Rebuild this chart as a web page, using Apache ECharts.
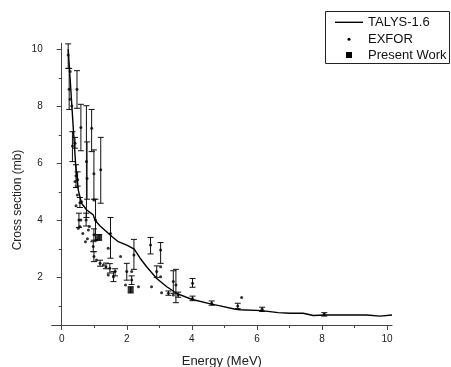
<!DOCTYPE html>
<html>
<head>
<meta charset="utf-8">
<script src="https://cdn.jsdelivr.net/npm/echarts@6/dist/echarts.min.js"></script>
<style>html,body{margin:0;padding:0;background:#fff}#c{width:451px;height:367px}</style>
</head>
<body>
<div id="c"></div>
<script>
// TALYS-1.6 calculation
const talysX = [0.2,0.28,0.36,0.43,0.51,0.61,0.77,0.97,1.02,1.18,1.38,1.54,1.74,2.0,2.23,2.41,2.61,2.92,3.23,3.53,3.99,4.6,4.87,5.3,5.48,6.15,6.65,7.02,7.42,7.73,8.09,8.8,9.37,9.78,10.15];
const talysY = [10.0,8.6,7.17,5.94,5.06,4.6,4.36,4.19,4.01,3.8,3.6,3.43,3.25,3.13,2.99,2.67,2.37,1.96,1.67,1.44,1.23,1.06,1.0,0.89,0.86,0.83,0.76,0.74,0.74,0.66,0.68,0.68,0.68,0.64,0.68];

// EXFOR points [energy, cross section]
const exforPoints = [
 [0.20,9.80],[0.23,8.60],[0.26,9.22],[0.26,8.25],[0.31,8.01],[0.33,6.61],[0.41,6.70],[0.47,8.60],
 [0.59,7.26],[0.44,5.56],[0.41,5.36],[0.49,5.42],[0.56,4.62],[0.61,4.65],[0.44,4.51],[0.48,4.89],
 [0.53,4.01],[0.59,4.01],[0.51,3.72],[0.65,3.54],[0.56,3.78],[0.73,3.25],[0.79,3.35],[0.82,3.66],
 [0.85,3.78],[0.75,4.01],[0.76,6.06],[0.78,5.47],[0.92,7.23],[0.99,5.63],[0.99,4.71],[1.04,4.01],
 [0.99,3.49],[1.07,3.31],[1.20,5.77],[0.97,3.08],[0.99,2.73],[1.07,2.61],[1.18,2.49],[1.28,2.43],
 [1.36,2.37],[1.43,3.02],[1.50,3.54],[1.48,2.32],[1.43,2.08],[1.59,2.02],[1.64,2.20],[1.81,2.73],
 [2.00,2.20],[1.96,1.73],[2.15,2.20],[2.15,1.91],[2.22,2.78],[2.36,1.67],[2.73,3.13],[2.76,1.67],
 [2.92,2.20],[3.04,2.96],[3.04,2.37],[3.04,2.02],[3.07,1.46],[3.28,1.44],[3.43,1.85],[3.51,1.73],
 [3.43,1.38],[3.58,1.38],[4.02,1.79],[4.02,1.26],[4.61,1.09],[5.41,0.99],[5.53,1.29],[6.16,0.88],
 [8.07,0.70]
];
// EXFOR error bars [energy, low, high]
const exforErrors = [
 [0.20,9.33,10.19],[0.23,7.89,9.33],[0.33,6.06,7.11],[0.41,6.53,6.91],[0.47,7.93,9.25],[0.59,6.44,8.07],
 [0.44,5.15,5.95],[0.49,5.20,5.70],[0.56,4.45,4.80],[0.53,3.75,4.25],[0.75,3.80,4.25],[0.76,4.10,8.02],
 [0.78,4.74,6.75],[0.92,6.41,7.89],[0.99,4.74,6.47],[1.04,3.30,4.74],[0.99,3.30,3.70],[1.20,4.60,6.91],
 [0.97,2.90,3.25],[0.99,2.55,2.90],[1.18,2.39,2.60],[1.36,2.30,2.50],[1.50,2.67,4.10],[1.48,2.15,2.48],
 [1.59,1.85,2.20],[1.64,2.05,2.30],[2.00,1.90,2.49],[2.15,1.75,2.05],[2.22,2.28,3.33],[2.73,2.82,3.40],
 [2.92,2.00,2.40],[3.04,2.49,3.22],[3.28,1.37,1.52],[3.43,1.44,2.23],[3.51,1.11,2.28],[3.58,1.30,1.48],
 [4.02,1.65,1.96],[4.02,1.18,1.34],[4.61,1.02,1.17],[5.41,0.90,1.09],[6.16,0.80,0.95],[8.07,0.64,0.76]
];
// Present work
const presentPoints = [[1.15,3.40],[2.12,1.56]];
const presentErrors = [[1.15,3.30,3.50],[2.12,1.45,1.67]];

const xMajor = [0,2,4,6,8,10];
const xMinor = [1,3,5,7,9];
const yMajor = [2,4,6,8,10];
const yMinor = [1,3,5,7,9];

const FONT = 'Liberation Sans, Arial, sans-serif';
const AXIS_COLOR = '#444';

function errRender(params, api) {
  const x = api.value(0), lo = api.value(1), hi = api.value(2);
  const a = api.coord([x, lo]), b = api.coord([x, hi]);
  const w = 3;
  const st = {stroke: '#111', lineWidth: 1};
  return {type: 'group', children: [
    {type: 'line', shape: {x1: a[0], y1: a[1], x2: b[0], y2: b[1]}, style: st},
    {type: 'line', shape: {x1: a[0]-w, y1: a[1], x2: a[0]+w, y2: a[1]}, style: st},
    {type: 'line', shape: {x1: b[0]-w, y1: b[1], x2: b[0]+w, y2: b[1]}, style: st}
  ]};
}

const xBase = {type: 'value', min: -0.307, max: 10.15, position: 'bottom', splitLine: {show: false}};
const yBase = {type: 'value', min: 0.327, max: 10.21, position: 'left', splitLine: {show: false}};
const legendText = {fontSize: 13, fontFamily: FONT, color: '#111', lineHeight: 14};

const chart = echarts.init(document.getElementById('c'), null, {renderer: 'canvas'});
chart.setOption({
  animation: false,
  backgroundColor: '#fff',
  grid: {left: 51.7, right: 59, top: 43.3, bottom: 42, containLabel: false},
  xAxis: [
    Object.assign({}, xBase, {
      axisLine: {show: true, lineStyle: {color: AXIS_COLOR, width: 1}},
      axisTick: {show: true, length: 5, customValues: xMajor, lineStyle: {color: AXIS_COLOR}},
      axisLabel: {show: true, customValues: xMajor, margin: 9, fontSize: 10, fontFamily: FONT, color: '#222'}
    }),
    Object.assign({}, xBase, {
      axisLine: {show: false},
      axisTick: {show: true, length: 3, customValues: xMinor, lineStyle: {color: AXIS_COLOR}},
      axisLabel: {show: false}
    })
  ],
  yAxis: [
    Object.assign({}, yBase, {
      axisLine: {show: true, lineStyle: {color: AXIS_COLOR, width: 1}},
      axisTick: {show: true, length: 5, customValues: yMajor, lineStyle: {color: AXIS_COLOR}},
      axisLabel: {show: true, customValues: yMajor, margin: 9, fontSize: 10, fontFamily: FONT, color: '#222'}
    }),
    Object.assign({}, yBase, {
      axisLine: {show: false},
      axisTick: {show: true, length: 3, customValues: yMinor, lineStyle: {color: AXIS_COLOR}},
      axisLabel: {show: false}
    })
  ],
  legend: [
    {data: [{name: 'TALYS-1.6', icon: 'none'}], left: 335, top: 15.3, padding: 0, itemWidth: 28, itemHeight: 7,
     selectedMode: false, textStyle: legendText},
    {data: [{name: 'EXFOR', icon: 'none'}], left: 335, top: 32.3, padding: 0, itemWidth: 28, itemHeight: 7,
     selectedMode: false, textStyle: legendText},
    {data: [{name: 'Present Work', icon: 'none'}], left: 335, top: 48, padding: 0, itemWidth: 28, itemHeight: 7,
     selectedMode: false, textStyle: legendText}
  ],
  graphic: [
    {type: 'rect', shape: {x: 325.5, y: 11.5, width: 124, height: 52}, style: {fill: 'none', stroke: '#222', lineWidth: 1}, silent: true},
    {type: 'line', shape: {x1: 335, y1: 22.3, x2: 363, y2: 22.3}, style: {stroke: '#000', lineWidth: 1.4}, silent: true},
    {type: 'circle', shape: {cx: 349, cy: 39.3, r: 1.5}, style: {fill: '#000'}, silent: true},
    {type: 'rect', shape: {x: 346, y: 52, width: 6, height: 6}, style: {fill: '#000'}, silent: true},
    {type: 'text', x: 18, y: 200, rotation: Math.PI / 2,
     style: {text: 'Cross section (mb)', font: '12px ' + FONT, fill: '#222', textAlign: 'center', textVerticalAlign: 'middle'}},
    {type: 'text', x: 221.8, y: 361,
     style: {text: 'Energy (MeV)', font: '13px ' + FONT, fill: '#222', textAlign: 'center', textVerticalAlign: 'middle'}}
  ],
  series: [
    {name: 'EXFOR errors', type: 'custom', renderItem: errRender, data: exforErrors, encode: {x: 0, y: [1, 2]}, z: 2, silent: true},
    {name: 'Present errors', type: 'custom', renderItem: errRender, data: presentErrors, encode: {x: 0, y: [1, 2]}, z: 2, silent: true},
    {name: 'TALYS-1.6', type: 'line', data: talysX.map((x, i) => [x, talysY[i]]), symbol: 'none', showSymbol: false,
     lineStyle: {color: '#000', width: 1.4}, itemStyle: {color: '#000'}, z: 3},
    {name: 'EXFOR', type: 'scatter', data: exforPoints, symbol: 'circle', symbolSize: 3, itemStyle: {color: '#000'}, z: 4},
    {name: 'Present Work', type: 'scatter', data: presentPoints, symbol: 'rect', symbolSize: 6,
     itemStyle: {color: '#000'}, z: 5}
  ]
});
</script>
</body>
</html>
